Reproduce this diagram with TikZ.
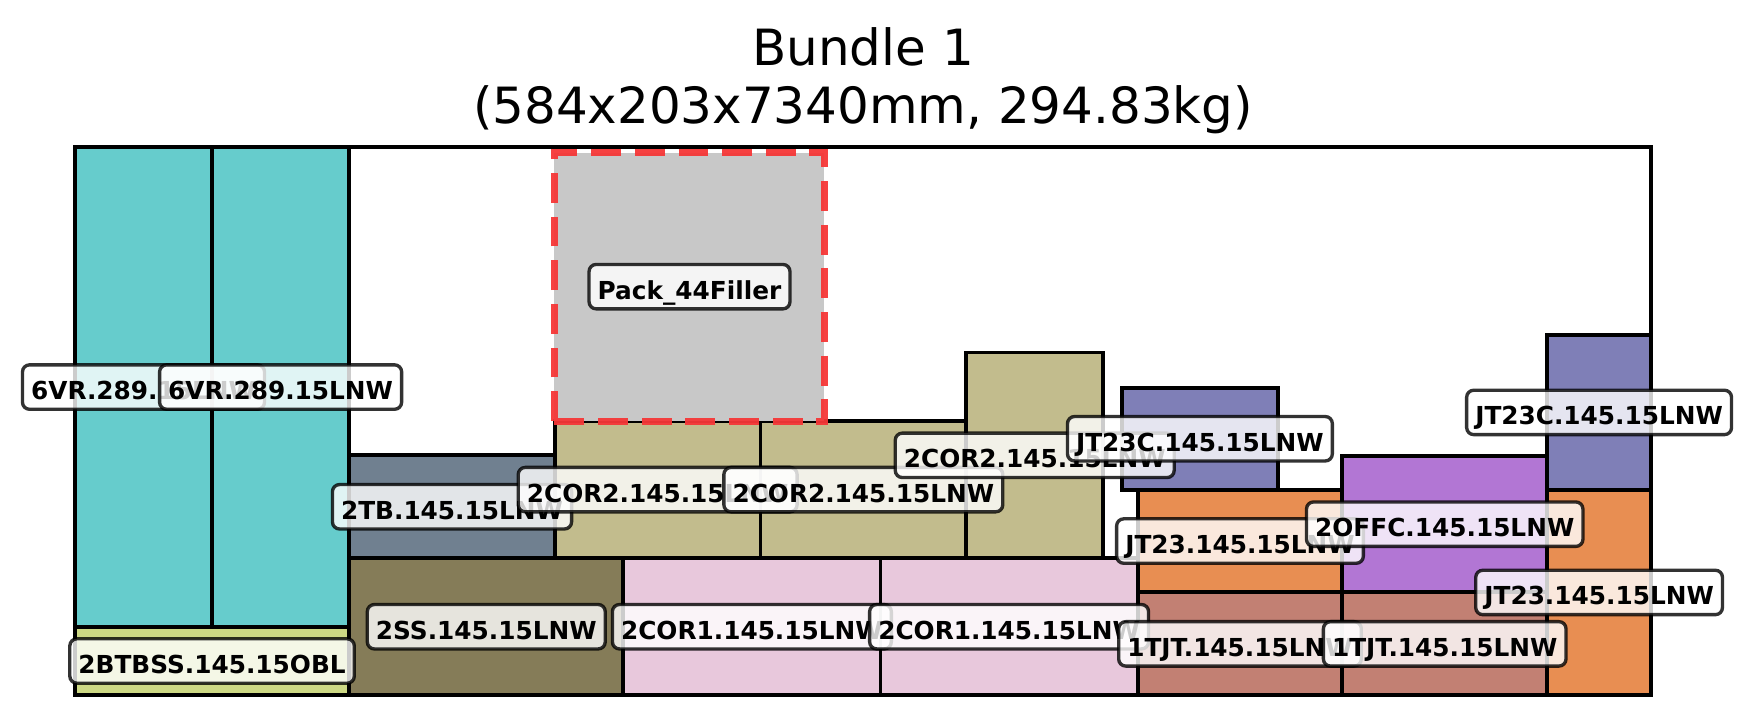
\documentclass[tikz,border=0pt]{standalone}
\usepackage{fontspec}
\setmainfont{DejaVu Sans}
\usetikzlibrary{positioning}

\definecolor{vrcol}{RGB}{102,204,204}
\definecolor{btcol}{RGB}{204,216,132}
\definecolor{tbcol}{RGB}{112,128,144}
\definecolor{sscol}{RGB}{133,124,88}
\definecolor{ctcol}{RGB}{194,188,141}
\definecolor{cocol}{RGB}{232,200,220}
\definecolor{jccol}{RGB}{127,127,183}
\definecolor{jtcol}{RGB}{232,142,82}
\definecolor{tjcol}{RGB}{194,128,115}
\definecolor{ofcol}{RGB}{178,118,212}
\definecolor{flcol}{RGB}{200,200,200}
\definecolor{rdcol}{RGB}{245,55,55}

\begin{document}
\begin{tikzpicture}[x=0.24127mm,y=0.24127mm]
\tikzstyle{every node}+=[inner sep=0pt]
\tikzstyle{pack}=[draw=black,line width=1pt]
\tikzstyle{tag}=[draw=black,draw opacity=0.8,fill=white,fill opacity=0.8,text opacity=1,
  rounded corners=1.8pt,line width=0.85pt,inner xsep=2.2pt,inner ysep=1.5pt,
  text height=0.73em,text depth=0.1em,font=\fontsize{6.3}{7}\selectfont\bfseries]
\tikzstyle{ttl}=[anchor=base,font=\fontsize{12.7}{14}\selectfont]
\useasboundingbox (-27.77,-11.36) rectangle (622.1,257.6);
% bundle
\draw [pack] (0,0) rectangle (584,203);
\draw [pack,fill=vrcol] (0,25.4) rectangle (50.8,203);
\draw [pack,fill=vrcol] (50.8,25.4) rectangle (101.6,203);
\draw [pack,fill=btcol] (0,0) rectangle (101.6,25.4);
\draw [pack,fill=sscol] (101.6,0) rectangle (203.2,50.8);
\draw [pack,fill=tbcol] (101.6,50.8) rectangle (177.8,88.9);
\draw [pack,fill=cocol] (203.2,0) rectangle (298.45,50.8);
\draw [pack,fill=cocol] (298.45,0) rectangle (393.7,50.8);
\draw [pack,fill=ctcol] (177.8,50.8) rectangle (254,101.6);
\draw [pack,fill=ctcol] (254,50.8) rectangle (330.2,101.6);
\draw [pack,fill=ctcol] (330.2,50.8) rectangle (381,127);
\draw [fill=flcol,draw=rdcol,draw opacity=0.95,line width=1.8pt,dash pattern=on 7.6pt off 3.5pt] (177.6,101.6) rectangle (277.7,201.1);
\draw [pack,fill=tjcol] (393.7,0) rectangle (469.6,38.1);
\draw [pack,fill=jtcol] (393.7,38.1) rectangle (469.6,76.2);
\draw [pack,fill=jccol] (388,76.2) rectangle (445.6,113.9);
\draw [pack,fill=tjcol] (469.6,0) rectangle (545.4,38.1);
\draw [pack,fill=ofcol] (469.6,38.1) rectangle (545.4,88.7);
\draw [pack,fill=jtcol] (545.4,0) rectangle (584,76.2);
\draw [pack,fill=jccol] (545.4,76.2) rectangle (584,133.4);
% labels
\node [tag] (vrA) at (25.4,114.2) {6VR.289.15LNW};
\node [tag] (vrB) at (76.2,114.2) {6VR.289.15LNW};
\node [tag] (btbss) at (50.8,12.7) {2BTBSS.145.15OBL};
\node [tag] (ss) at (152.4,25.4) {2SS.145.15LNW};
\node [tag] (tb) at (139.7,69.85) {2TB.145.15LNW};
\node [tag] (coA) at (250.8,25.4) {2COR1.145.15LNW};
\node [tag] (coB) at (346.1,25.4) {2COR1.145.15LNW};
\node [tag] (ctA) at (215.9,76.2) {2COR2.145.15LNW};
\node [tag] (ctB) at (292.1,76.2) {2COR2.145.15LNW};
\node [tag] (ctC) at (355.6,88.9) {2COR2.145.15LNW};
\node [tag] (filler) at (227.7,151.4) {Pack\_44Filler};
\node [tag] (jtA) at (431.65,57.15) {JT23.145.15LNW};
\node [tag] (tjA) at (431.65,19.05) {1TJT.145.15LNW};
\node [tag] (tjB) at (507.5,19.05) {1TJT.145.15LNW};
\node [tag] (jcA) at (416.8,95.05) {JT23C.145.15LNW};
\node [tag] (off) at (507.5,63.4) {2OFFC.145.15LNW};
\node [tag] (jtB) at (564.7,38.1) {JT23.145.15LNW};
\node [tag] (jcB) at (564.7,104.8) {JT23C.145.15LNW};
% title
\node [ttl] (ttlA) at (292,233.2) {Bundle 1};
\node [ttl] (ttlB) at (292,211.8) {(584x203x7340mm, 294.83kg)};
\end{tikzpicture}
\end{document}
